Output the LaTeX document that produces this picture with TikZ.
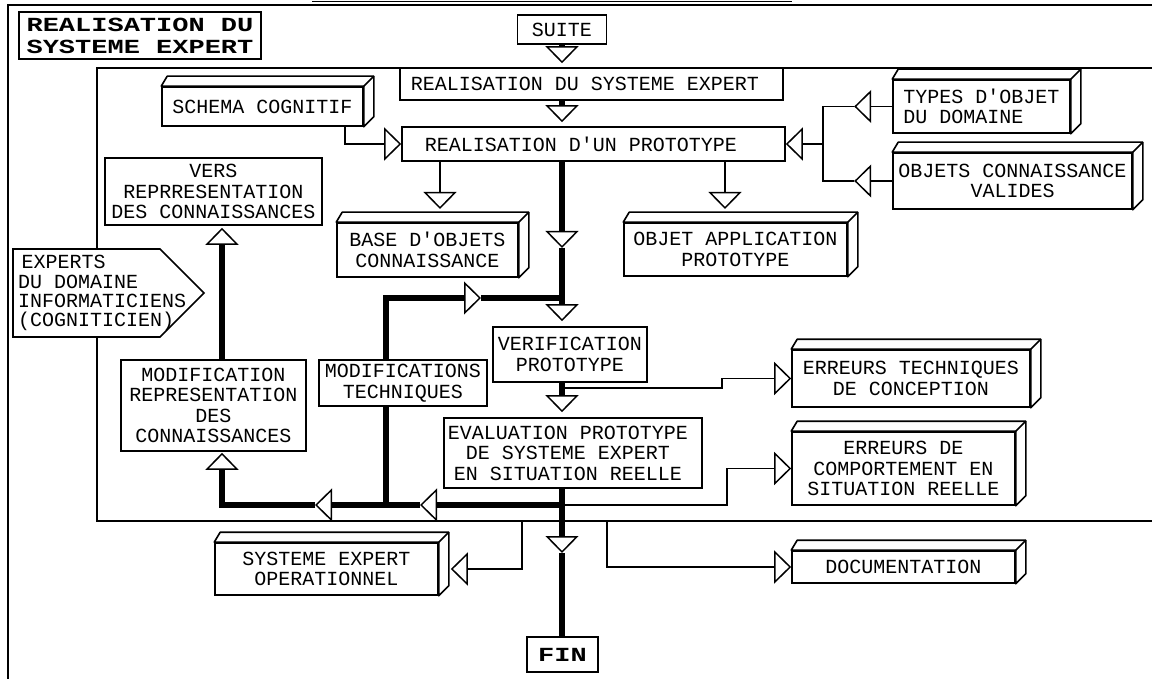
\documentclass[tikz,border=0pt]{standalone}
\usepackage{fontspec}
\newfontfamily\boxfont{Liberation Mono}
\newfontfamily\widefont[FakeStretch=1.35]{Liberation Mono}
\usetikzlibrary{arrows.meta}
\tikzset{
  otri/.tip={Triangle[fill=white,length=17pt,width=33pt,line width=1.5pt]},
  thinl/.style={line width=1.6pt},
  thickl/.style={line width=6pt},
  flat/.style={draw, fill=white, line width=1.6pt, inner sep=0pt, align=center,
    font=\boxfont\fontsize{20}{20.5}\selectfont},
  boxtd/.style={flat},
  boldtxt/.style={font=\widefont\bfseries\fontsize{20}{22}\selectfont},
  sz/.style 2 args={minimum width=#1pt, minimum height=#2pt}
}
\newcommand\extrude[1]{%
  \draw[line width=1.6pt, line join=round, fill=white] (#1.north west) -- ++(6,-10)
    -- ([shift={(10,-10)}]#1.north east) -- ([shift={(10,-10)}]#1.south east)
    -- (#1.south east) -- (#1.north east) -- cycle;
  \draw[line width=1.6pt] (#1.north east) -- ++(10,-10);}
\begin{document}
\begin{tikzpicture}[x=1pt,y=-1pt]
\useasboundingbox (0,0) rectangle (1152,679);
% frames
\draw[thinl] (312,1.5) -- (792,1.5);
\draw[thinl] (1152,5) -- (8,5) -- (8,679);
\draw[thinl] (1152,68) -- (97,68) -- (97,521) -- (1152,521);
% flat boxes
\node[flat, boldtxt, align=left, sz={242}{47}] (title) at (140,35.5) {REALISATION DU\\SYSTEME EXPERT};
\node[flat, sz={89}{29}] (suite) at (562,29.5) {SUITE};
\node[flat, sz={383}{32}] (rse) at (591.5,84) {\hspace*{-13pt}REALISATION DU SYSTEME EXPERT};
\node[flat, sz={383}{34}] (proto) at (593.5,144) {\hspace*{-25pt}REALISATION D'UN PROTOTYPE};
\node[flat, sz={217}{67}] (vers) at (213.5,191.5) {VERS\\REPRRESENTATION\\DES CONNAISSANCES};
\node[flat, sz={185}{91}] (modrep) at (213.5,405.5) {MODIFICATION\\REPRESENTATION\\DES\\CONNAISSANCES};
\node[flat, sz={168}{46}] (modtech) at (403,383) {MODIFICATIONS\\TECHNIQUES};
\node[flat, sz={154}{55}] (verif) at (570,354.5) {VERIFICATION\\PROTOTYPE};
\node[flat, sz={258}{70}] (eval) at (573,453) {\hspace*{-10pt}EVALUATION PROTOTYPE\\\hspace*{-10pt}DE SYSTEME EXPERT\\\hspace*{-10pt}EN SITUATION REELLE};
\node[flat, boldtxt, sz={71}{35}] (fin) at (562.5,654.5) {FIN};
% 3D boxes
\node[boxtd, sz={201}{39}] (schema) at (262.5,106.5) {SCHEMA COGNITIF};
\node[boxtd, sz={177}{53}, align=left] (types) at (981.5,106.5) {TYPES D'OBJET\\DU DOMAINE};
\node[boxtd, sz={239}{56}] (objcon) at (1012.5,181) {OBJETS CONNAISSANCE\\VALIDES};
\node[boxtd, sz={181}{54}] (base) at (427.5,250) {BASE D'OBJETS\\CONNAISSANCE};
\node[boxtd, sz={223}{53}] (objapp) at (735.5,249.5) {OBJET APPLICATION\\PROTOTYPE};
\node[boxtd, sz={238}{57}] (errtech) at (911,378.5) {ERREURS TECHNIQUES\\DE CONCEPTION};
\node[boxtd, sz={223}{73}] (errcomp) at (903.5,468.5) {ERREURS DE\\COMPORTEMENT EN\\SITUATION REELLE};
\node[boxtd, sz={223}{52}] (seo) at (326.5,569) {SYSTEME EXPERT\\OPERATIONNEL};
\node[boxtd, sz={223}{32}] (doc) at (903.5,567) {DOCUMENTATION};
\foreach \n in {schema,types,objcon,base,objapp,errtech,errcomp,seo,doc} {\extrude{\n}}
% experts pentagon
\draw[thinl, fill=white] (13,249) -- (160,249) -- (204,293) -- (160,337) -- (13,337) -- cycle;
\node[inner sep=0pt, anchor=west, align=left, font=\boxfont\fontsize{20}{19.2}\selectfont] (experts) at (18,293)
  {\,EXPERTS\\DU DOMAINE\\INFORMATICIENS\\(COGNITICIEN)};
% coordinates
\coordinate (cx) at (562,0);
\coordinate (mx) at (386,0);
\coordinate (lx) at (222,0);
\coordinate (tv) at (823,0);
\coordinate (m1) at (562,248);
\coordinate (jn) at (562,298);
\coordinate (m2) at (481,298);
\coordinate (bj) at (562,505);
\coordinate (m3) at (420,505);
\coordinate (m4) at (315,505);
\coordinate (m5) at (562,553);
\coordinate (v1) at (562,388);
\coordinate (f1) at (522,521);
\coordinate (f2) at (607,521);
% thick main flow
\draw[thickl,-otri,shorten >=4pt] (suite.south) -- (cx |- rse.north);
\draw[thickl,-otri,shorten >=4pt] (cx |- rse.south) -- (cx |- proto.north);
\draw[thickl,-otri] (cx |- proto.south) -- (m1);
\draw[thickl,-otri,shorten >=5pt] (m1) -- (cx |- verif.north);
\draw[thickl,-otri] (mx |- modtech.north) -- (mx |- jn) -- (m2);
\draw[thickl] (m2) -- (jn);
\draw[thickl,-otri,shorten >=5pt] (cx |- verif.south) -- (cx |- eval.north);
\draw[thickl,-otri] (cx |- eval.south) -- (bj) -- (m3);
\draw[thickl] (m3) -- (mx |- bj) -- (mx |- modtech.south);
\draw[thickl,-otri] (mx |- bj) -- (m4);
\draw[thickl,-otri,shorten >=1pt] (m4) -- (lx |- bj) -- (lx |- modrep.south);
\draw[thickl,-otri,shorten >=2pt] (lx |- modrep.north) -- (lx |- vers.south);
\draw[thickl,-otri] (bj) -- (m5);
\draw[thickl] (m5) -- (cx |- fin.north);
% thin flows
\draw[thinl,-otri] (440,161) -- (440,209);
\draw[thinl,-otri] (725,161) -- (725,209);
\draw[thinl,-otri] (345,126) |- (proto.west);
\draw[thinl,-otri] (types.west) -- ++(-38,0);
\draw[thinl,-otri] (objcon.west) -- ++(-38,0);
\draw[thinl] ([xshift=-38pt]types.west) -| (tv |- objcon.west) -- ([xshift=-38pt]objcon.west);
\draw[thinl,-otri] (tv |- proto.east) -- (proto.east);
\draw[thinl,-otri] (v1) -- (722,388) |- (errtech.west);
\draw[thinl,-otri] (bj) -- (727,505) |- (errcomp.west);
\draw[thinl,-otri] (f1) |- ([xshift=12pt]seo.east);
\draw[thinl,-otri] (f2) |- (doc.west);
\end{tikzpicture}
\end{document}
